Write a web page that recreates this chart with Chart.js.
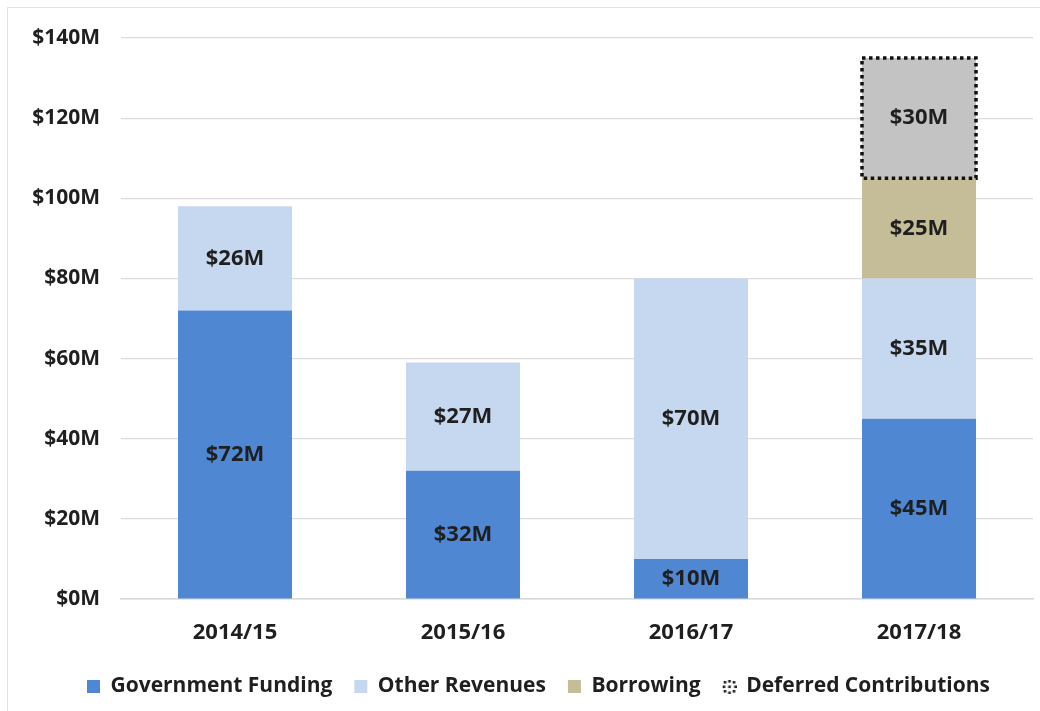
<!DOCTYPE html>
<html>
<head>
<meta charset="utf-8">
<script src="https://cdn.jsdelivr.net/npm/chart.js@4"></script>
<style>
  body { margin: 0; background: #fff; }
  #wrap { position: relative; width: 1040px; height: 711px; }
  #frame { position: absolute; left: 7px; top: 7px; width: 1040px; height: 711px; border-left: 1px solid #e3e3e3; border-top: 1px solid #e3e3e3; pointer-events: none; }
</style>
</head>
<body>
<div id="wrap">
  <canvas id="myChart" width="1040" height="711"></canvas>
  <div id="frame"></div>
</div>
<script>
// values ($M)
const years = ['2014/15', '2015/16', '2016/17', '2017/18'];
const govFunding = [72, 32, 10, 45];
const otherRevenues = [26, 27, 70, 35];
const borrowing = [null, null, null, 25];
const deferred = [null, null, null, 30];
const yTicks = [0, 20, 40, 60, 80, 100, 120, 140];

const FONT = '"Open Sans", "Noto Sans", sans-serif';

// little dotted ring for the legend of deferred contributions
const dotIcon = document.createElement('canvas');
dotIcon.width = 15; dotIcon.height = 15;
(() => {
  const c = dotIcon.getContext('2d');
  c.fillStyle = '#222';
  const pts = [[2,2],[6.5,1],[11,2],[12.5,6.5],[11,11],[6.5,12.5],[2,11],[1,6.5],[6.5,6.5]];
  pts.forEach(p => c.fillRect(p[0], p[1], 2.6, 2.6));
})();

// writes the $xxM label in the middle of every bar segment
const barLabels = {
  id: 'barLabels',
  afterDatasetsDraw(chart) {
    const ctx = chart.ctx;
    ctx.save();
    ctx.font = 'bold 22px ' + FONT;
    ctx.fillStyle = '#1f1f1f';
    ctx.textAlign = 'center';
    ctx.textBaseline = 'middle';
    chart.data.datasets.forEach((ds, i) => {
      const meta = chart.getDatasetMeta(i);
      meta.data.forEach((bar, j) => {
        const v = ds.data[j];
        if (v == null) return;
        ctx.fillText('$' + v + 'M', bar.x, (bar.y + bar.base) / 2);
      });
    });
    ctx.restore();
  }
};

// dotted black outline on the deferred bar
const dottedBorder = {
  id: 'dottedBorder',
  afterDatasetsDraw(chart) {
    const ctx = chart.ctx;
    chart.data.datasets.forEach((ds, i) => {
      if (!ds.dotted) return;
      chart.getDatasetMeta(i).data.forEach((bar, j) => {
        if (ds.data[j] == null) return;
        const left = bar.x - bar.width / 2, top = bar.y;
        ctx.save();
        ctx.strokeStyle = '#111';
        ctx.lineWidth = 3.5;
        ctx.setLineDash([3.5, 3.5]);
        ctx.strokeRect(left, top, bar.width, bar.base - bar.y);
        ctx.restore();
      });
    });
  }
};

// legend sits a bit right of the canvas centre in the original
const shiftLegend = {
  id: 'shiftLegend',
  afterLayout(chart) {
    chart.legend.left += 22;
    chart.legend.right += 22;
  }
};

const ctx = document.getElementById('myChart');
new Chart(ctx, {
  type: 'bar',
  data: {
    labels: years,
    datasets: [
      { label: 'Government Funding', data: govFunding, backgroundColor: '#4f87d3', pointStyle: 'rect' },
      { label: 'Other Revenues', data: otherRevenues, backgroundColor: '#c6d8ef', pointStyle: 'rect' },
      { label: 'Borrowing', data: borrowing, backgroundColor: '#c5bd98', pointStyle: 'rect' },
      { label: 'Deferred Contributions', data: deferred, backgroundColor: '#c3c3c3', pointStyle: dotIcon, dotted: true }
    ]
  },
  options: {
    responsive: false,
    animation: false,
    layout: { padding: { left: 0, right: 7, top: 38, bottom: 4 } },
    datasets: { bar: { categoryPercentage: 0.5, barPercentage: 1 } },
    scales: {
      x: {
        stacked: true,
        grid: { display: false },
        border: { color: '#d9d9d9', width: 1.5 },
        ticks: { color: '#1f1f1f', font: { family: FONT, size: 22, weight: 'bold' }, padding: 13 },
        afterFit: s => { s.height = 55; }
      },
      y: {
        stacked: true,
        min: 0, max: 140,
        afterBuildTicks: s => { s.ticks = yTicks.map(v => ({ value: v })); },
        grid: { color: '#dcdcdc', lineWidth: 1.2, drawTicks: false },
        border: { display: false },
        ticks: {
          color: '#1f1f1f',
          font: { family: FONT, size: 21, weight: 'bold' },
          padding: 21,
          callback: v => '$' + v + 'M'
        },
        afterFit: s => { s.width = 121; }
      }
    },
    plugins: {
      tooltip: { enabled: false },
      legend: {
        position: 'bottom',
        labels: {
          usePointStyle: true,
          boxWidth: 13, boxHeight: 13,
          padding: 22,
          color: '#1f1f1f',
          font: { family: FONT, size: 21, weight: 'bold' },
          generateLabels: chart => {
            const items = Chart.defaults.plugins.legend.labels.generateLabels(chart);
            items.forEach(it => {
              const ds = chart.data.datasets[it.datasetIndex];
              it.pointStyle = ds.pointStyle;
              it.lineWidth = 0;
              it.strokeStyle = 'rgba(0,0,0,0)';
            });
            return items;
          }
        }
      }
    }
  },
  plugins: [barLabels, dottedBorder, shiftLegend]
});
</script>
</body>
</html>
